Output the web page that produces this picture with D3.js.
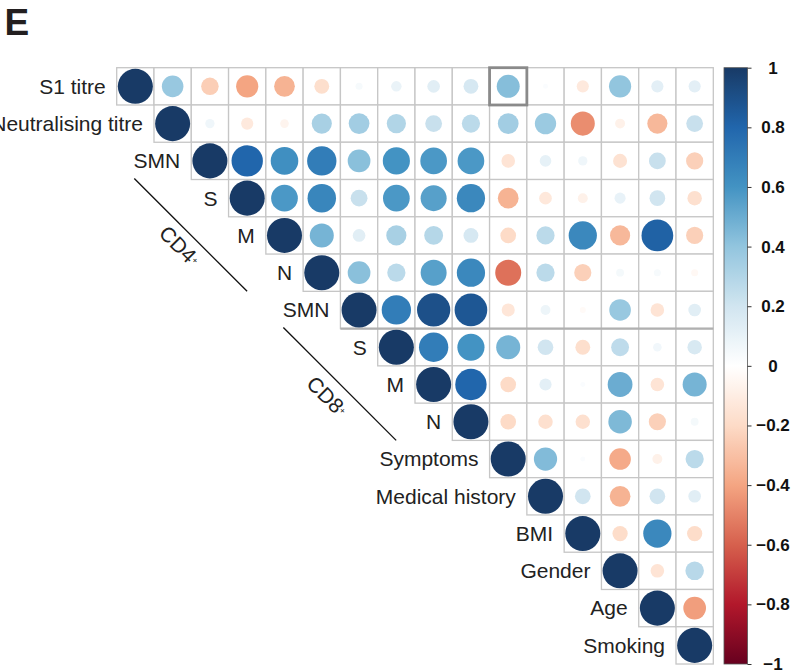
<!DOCTYPE html>
<html>
<head>
<meta charset="utf-8">
<script src="https://cdn.jsdelivr.net/npm/d3@7"></script>
<style>
  body { margin: 0; background: #fff; }
  svg { display: block; font-family: "Liberation Sans", Arial, Helvetica, sans-serif; }
</style>
</head>
<body>
<svg id="chart" width="801" height="671"></svg>
<script>
// ---------------- DATA ----------------
const variables = ["S1 titre", "Neutralising titre", "SMN", "S", "M", "N",
  "SMN", "S", "M", "N", "Symptoms", "Medical history", "BMI", "Gender", "Age", "Smoking"];
const groupNames = ["CD4", "CD8"];
const groupFirstIndex = [2, 6];
const panelLabel = "E";

// upper-triangle rows (values start at the diagonal)
const rowS1Titre       = [1, 0.38, -0.25, -0.40, -0.35, -0.18, 0.04, 0.09, 0.13, 0.18, 0.43, 0.02, -0.12, 0.40, 0.12, 0.12];
const rowNeutTitre     = [1, 0.07, -0.12, -0.06, 0.33, 0.35, 0.30, 0.23, 0.27, 0.35, 0.37, -0.47, -0.08, -0.33, 0.23];
const rowCD4SMN        = [1, 0.80, 0.62, 0.70, 0.42, 0.60, 0.58, 0.58, -0.15, 0.11, 0.07, -0.16, 0.23, -0.24];
const rowCD4S          = [1, 0.58, 0.66, 0.23, 0.58, 0.55, 0.65, -0.35, -0.13, -0.08, 0.10, 0.20, -0.17];
const rowCD4M          = [1, 0.47, 0.13, 0.33, 0.29, 0.18, -0.20, 0.27, 0.65, -0.33, 0.82, -0.24];
const rowCD4N          = [1, 0.42, 0.27, 0.55, 0.65, -0.55, 0.27, -0.24, 0.05, 0.04, -0.04];
const rowCD8SMN        = [1, 0.70, 0.90, 0.87, -0.14, 0.08, -0.03, 0.38, -0.15, 0.13];
const rowCD8S          = [1, 0.70, 0.60, 0.47, 0.20, -0.18, 0.26, 0.06, 0.17];
const rowCD8M          = [1, 0.80, -0.20, 0.12, 0.02, 0.50, -0.15, 0.47];
const rowCD8N          = [1, -0.20, -0.17, -0.17, 0.45, -0.24, 0.05];
const rowSymptoms      = [1, 0.44, 0.02, -0.38, -0.08, 0.27];
const rowMedHistory    = [1, 0.20, -0.35, 0.20, 0.13];
const rowBMI           = [1, -0.19, 0.65, -0.19];
const rowGender        = [1, -0.15, 0.28];
const rowAge           = [1, -0.42];
const rowSmoking       = [1];

const colorbarTicks = [1, 0.8, 0.6, 0.4, 0.2, 0, -0.2, -0.4, -0.6, -0.8, -1];
const paletteColors = ["#67001F", "#B2182B", "#D6604D", "#F4A582", "#FDDBC7", "#FFFFFF",
  "#D1E5F0", "#92C5DE", "#4393C3", "#2166AC", "#183a66"];
const highlightedCell = { row: 0, col: 10 };
const separatorAfterRow = 6;

// ---------------- BUILD ----------------
const rows = [rowS1Titre, rowNeutTitre, rowCD4SMN, rowCD4S, rowCD4M, rowCD4N,
  rowCD8SMN, rowCD8S, rowCD8M, rowCD8N, rowSymptoms, rowMedHistory, rowBMI, rowGender, rowAge, rowSmoking];
const n = variables.length;
const cells = [];
rows.forEach((vals, i) => vals.forEach((v, k) => cells.push({ i: i, j: i + k, v: v })));

const svg = d3.select("#chart");

const x = d3.scaleBand().domain(d3.range(n)).range([116.7, 713.3]);
const y = d3.scaleBand().domain(d3.range(n)).range([67.7, 664]);
const bw = x.bandwidth();
const color = d3.scaleLinear()
  .domain(d3.range(paletteColors.length).map(k => -1 + 2 * k / (paletteColors.length - 1)))
  .range(paletteColors).interpolate(d3.interpolateRgb);
const radius = d3.scaleSqrt().domain([0, 1]).range([0, bw * 0.47]);

// panel letter
svg.append("text").attr("x", 4.5).attr("y", 35)
  .attr("font-size", 37).attr("font-weight", "bold").attr("fill", "#231f20")
  .text(panelLabel);

// grid cells
svg.append("g").selectAll("rect").data(cells).join("rect")
  .attr("x", d => x(d.j)).attr("y", d => y(d.i))
  .attr("width", bw).attr("height", bw)
  .attr("fill", "#fff").attr("stroke", "#c6c6c6").attr("stroke-width", 1.3);

// separator line
svg.append("line")
  .attr("x1", x(separatorAfterRow)).attr("x2", x(n - 1) + bw)
  .attr("y1", y(separatorAfterRow + 1)).attr("y2", y(separatorAfterRow + 1))
  .attr("stroke", "#b0b0b0").attr("stroke-width", 2.2);

// circles
svg.append("g").selectAll("circle").data(cells).join("circle")
  .attr("cx", d => x(d.j) + bw / 2).attr("cy", d => y(d.i) + bw / 2)
  .attr("r", d => radius(Math.abs(d.v)))
  .attr("fill", d => color(d.v));

// highlighted cell
svg.append("rect")
  .attr("x", x(highlightedCell.col)).attr("y", y(highlightedCell.row))
  .attr("width", bw).attr("height", bw)
  .attr("fill", "none").attr("stroke", "#8a8a8a").attr("stroke-width", 2.8);

// row labels
svg.append("g").selectAll("text").data(variables).join("text")
  .attr("x", (d, i) => x(i) - 11).attr("y", (d, i) => y(i) + bw / 2)
  .attr("dy", "0.35em").attr("text-anchor", "end")
  .attr("font-size", 21).attr("fill", "#222")
  .text(d => d);

// group annotations (CD4+, CD8+)
const diagShift = (y(0) - x(0)) + 2.5 * bw;
groupNames.forEach((name, g) => {
  const s = groupFirstIndex[g];
  const yA = y(s + 1) - 1, yB = y(s + 4);
  const xA = yA - diagShift, xB = yB - diagShift;
  svg.append("line").attr("x1", xA).attr("y1", yA).attr("x2", xB).attr("y2", yB)
    .attr("stroke", "#111").attr("stroke-width", 1.3);
  const mx = (xA + xB) / 2, my = (yA + yB) / 2;
  const off = 23 + g * 2;
  const tx = mx - off * Math.SQRT1_2, ty = my + off * Math.SQRT1_2;
  const t = svg.append("text")
    .attr("transform", `translate(${tx},${ty}) rotate(45)`)
    .attr("text-anchor", "middle").attr("font-size", 21).attr("fill", "#222");
  t.append("tspan").text(name);
  t.append("tspan").attr("font-size", 9).attr("dy", -5).text("+");
});

// colorbar
const cb = d3.scaleLinear().domain([-1, 1]).range([664, 67.7]);
const defs = svg.append("defs");
const grad = defs.append("linearGradient").attr("id", "cbgrad")
  .attr("x1", 0).attr("y1", 1).attr("x2", 0).attr("y2", 0);
d3.range(0, 1.0001, 0.02).forEach(t => {
  grad.append("stop").attr("offset", t).attr("stop-color", color(t * 2 - 1));
});
svg.append("rect").attr("x", 724).attr("y", cb(1))
  .attr("width", 23.5).attr("height", cb(-1) - cb(1))
  .attr("fill", "url(#cbgrad)").attr("stroke", "#555").attr("stroke-width", 0.8);

const axis = svg.append("g").attr("transform", "translate(747.5,0)")
  .call(d3.axisRight(cb).tickValues(colorbarTicks).tickSize(4).tickFormat(d3.format("")));
axis.select(".domain").remove();
axis.selectAll(".tick line").attr("stroke", "#333");
axis.selectAll(".tick text")
  .attr("x", 25.5).attr("text-anchor", "middle")
  .attr("font-size", 17).attr("font-weight", "bold").attr("fill", "#111")
  .attr("font-family", "'Liberation Sans', Arial, sans-serif");
</script>
</body>
</html>
